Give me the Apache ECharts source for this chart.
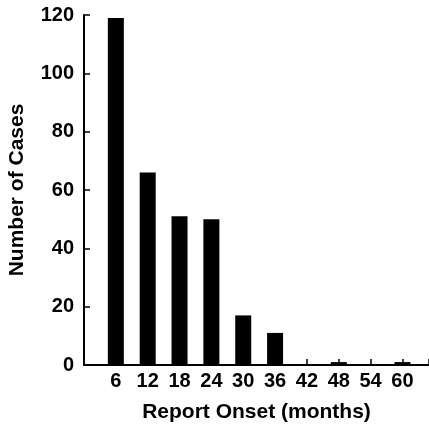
<!DOCTYPE html>
<html><head><meta charset="utf-8">
<script src="https://cdn.jsdelivr.net/npm/echarts@6/dist/echarts.min.js"></script>
<style>html,body{margin:0;padding:0;background:#fff}#c{width:429px;height:426px}</style>
</head><body><div id="c"></div>
<script>
const months = [6, 12, 18, 24, 30, 36, 42, 48, 54, 60];
const cases = [119, 66, 51, 50, 17, 11, 0, 1, 0, 1];
const yTicks = [0, 20, 40, 60, 80, 100, 120];
const xTitle = 'Report Onset (months)';
const yTitle = 'Number of Cases';

const font = 'Liberation Sans, Arial, Helvetica, sans-serif';
const chart = echarts.init(document.getElementById('c'), null, {renderer: 'canvas'});
chart.setOption({
  animation: false,
  grid: {left: 84, top: 15, right: 0, bottom: 61, containLabel: false, outerBoundsMode: 'none'},
  xAxis: {
    type: 'value', min: 0, max: 65, interval: 6,
    name: xTitle, nameLocation: 'middle', nameGap: 37,
    nameTextStyle: {fontFamily: font, fontWeight: 'bold', fontSize: 21, color: '#000'},
    axisLine: {show: true, lineStyle: {color: '#000', width: 2}},
    axisTick: {show: true, inside: true, length: 6, lineStyle: {color: '#000', width: 1.5}},
    axisLabel: {
      fontFamily: font, fontWeight: 'bold', fontSize: 20, color: '#000', margin: 6,
      formatter: v => (months.indexOf(v) >= 0 ? String(v) : '')
    },
    splitLine: {show: false}
  },
  yAxis: {
    type: 'value', min: 0, max: 120, interval: 20,
    name: yTitle, nameLocation: 'middle', nameGap: 56, nameRotate: 90,
    nameTextStyle: {fontFamily: font, fontWeight: 'bold', fontSize: 21, color: '#000'},
    axisLine: {show: true, lineStyle: {color: '#000', width: 2}},
    axisTick: {show: true, inside: true, length: 6, lineStyle: {color: '#000', width: 1.5}},
    axisLabel: {
      fontFamily: font, fontWeight: 'bold', fontSize: 20, color: '#000', margin: 10,
      formatter: v => (yTicks.indexOf(v) >= 0 ? String(v) : '')
    },
    splitLine: {show: false}
  },
  series: [{
    type: 'bar',
    data: months.map((m, i) => [m, cases[i]]),
    barWidth: 16,
    itemStyle: {color: '#000'}
  }]
});
</script>
</body></html>
